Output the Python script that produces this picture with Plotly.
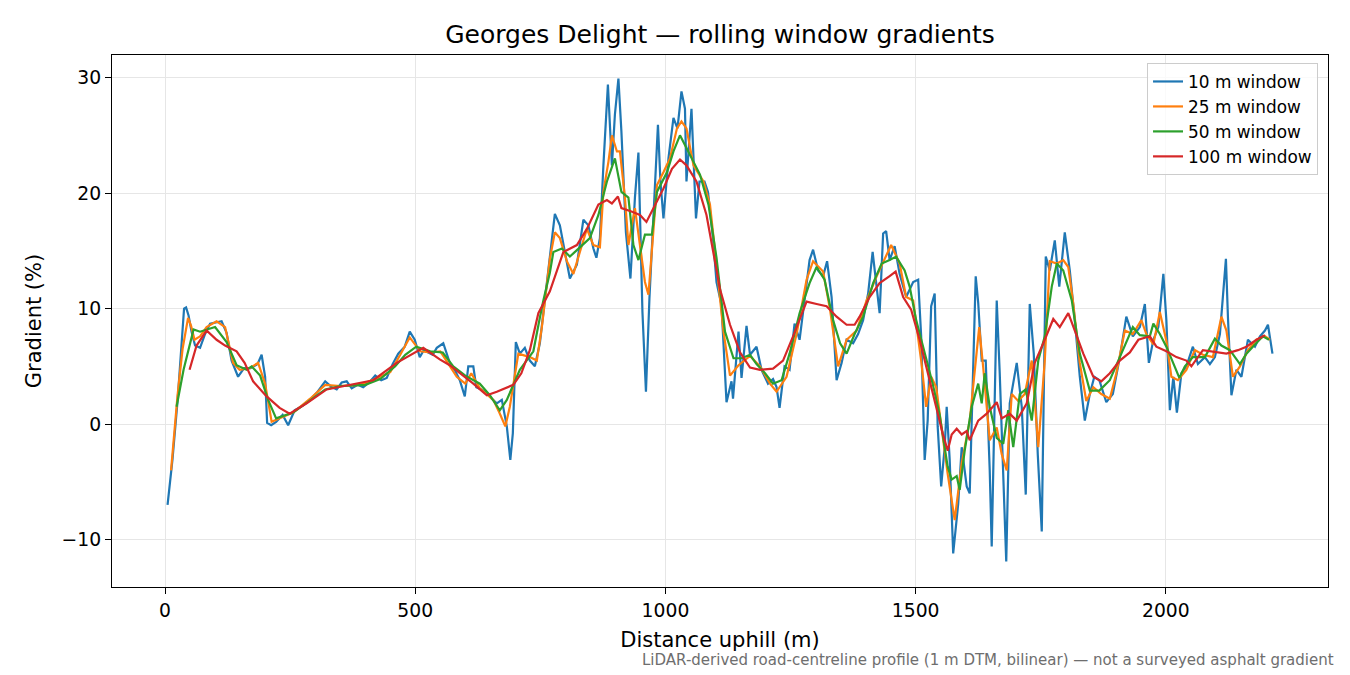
import plotly.graph_objects as go

# distance uphill (m) and gradient (%) per rolling window
DIST_10 = [5, 15, 25, 32, 38, 42, 47, 53, 60, 70, 80, 90, 100, 113, 123, 133, 146, 158, 171, 185,
           193, 200, 204, 212, 222, 235, 246, 259, 275, 290, 305, 320, 333, 343, 353, 363,
           373, 385, 396, 408, 420, 432, 443, 455, 466, 479, 489, 499, 509, 517, 526, 535, 543,
           556, 569, 580, 589, 599, 606, 616, 622, 632, 643, 653, 663, 673, 683, 690, 695, 701,
           709, 719, 729, 739, 749, 759, 769,
           779, 789, 799, 809, 823, 836, 846, 856, 862, 869, 876, 885, 893, 899, 906, 912, 921,
           930, 939, 946, 954, 961, 968, 975, 985, 990, 996, 1006, 1016, 1024, 1032, 1039, 1042,
           1052, 1061, 1068, 1078, 1085, 1095, 1102, 1112, 1122, 1132, 1135, 1146, 1152, 1162, 1169,
           1182, 1192, 1205, 1215, 1222, 1228, 1238, 1248, 1258, 1268, 1278, 1288, 1295, 1305,
           1315, 1323, 1332, 1342, 1352, 1362, 1375, 1385, 1395, 1405, 1414, 1422, 1428, 1435,
           1441, 1448, 1458, 1468, 1481, 1495, 1505, 1511, 1518, 1524, 1531, 1538, 1544,
           1551, 1558, 1562, 1568, 1575, 1585, 1592, 1602, 1608, 1615, 1620, 1625, 1632, 1640,
           1648, 1652, 1662, 1668, 1675, 1681, 1688, 1702, 1712, 1720, 1728, 1736, 1744, 1752,
           1760, 1768, 1778, 1787, 1798, 1808, 1818, 1828, 1838, 1848, 1857, 1867, 1881, 1894,
           1908, 1921, 1934, 1948, 1958, 1966,
           1975, 1985, 1995, 2001, 2008, 2015, 2022, 2031, 2041, 2054, 2064, 2078, 2088, 2098,
           2108, 2114, 2120, 2124, 2131, 2141, 2151, 2164, 2178, 2188, 2198, 2204, 2213]
GRAD_10 = [-7.0, -3.0, 2.0, 6.5, 10.0, 10.1, 9.4, 8.0, 6.8, 6.6, 7.8, 8.7, 8.8, 8.9, 7.9, 5.5, 4.1, 4.85, 4.85, 5.2,
           6.0, 4.1, 0.1, -0.1, 0.2, 0.8, -0.1, 1.2, 1.6, 2.1, 2.8, 3.7, 3.2, 3.0, 3.6, 3.7,
           3.1, 3.4, 3.2, 3.6, 4.2, 3.8, 4.0, 5.2, 6.1, 6.7, 8.0, 7.3, 5.8, 6.4, 6.2, 6.0, 6.6,
           7.0, 5.3, 4.6, 3.8, 2.4, 5.0, 5.0, 3.2, 3.0, 2.7, 2.2, 1.8, 2.1, -0.2, -3.1, -0.8, 7.1,
           6.1, 6.6, 5.5, 5.0, 7.0, 10.7, 14.5,
           18.2, 17.2, 14.9, 12.6, 13.8, 17.7, 17.2, 15.2, 14.4, 16.1, 22.4, 29.4, 22.4, 26.8, 29.9, 25.3, 16.6,
           12.6, 19.6, 23.5, 9.7, 2.8, 10.9, 17.5, 25.9, 21.0, 17.8, 23.0, 26.5, 25.6, 28.8, 27.3, 21.0,
           27.3, 17.8, 21.0, 21.0, 20.1, 16.1, 12.3, 10.3, 1.9, 3.7, 2.2, 8.0, 4.0, 8.5, 6.0,
           6.7, 4.7, 3.5, 3.9, 3.2, 1.4, 5.0, 4.7, 8.7, 7.3, 10.7, 14.2, 15.1, 13.3,
           12.8, 14.1, 11.0, 3.8, 5.3, 7.3, 7.0, 7.8, 9.0, 11.3, 14.9, 11.9, 9.6, 16.5,
           16.7, 14.2, 15.4, 13.0, 11.0, 12.3, 12.5, 7.6, -3.1, 0.3, 10.2, 11.3, -0.2,
           -5.4, -2.0, 1.5, -3.1, -11.2, -6.9, -2.0, -5.4, -6.0, 4.6, 12.8, 10.5, 5.5, 5.5,
           -4.0, -10.6, 10.7, 4.4, -5.4, -11.9, 1.8, 5.3, 1.5, -6.1, 10.4, 6.1, -2.6, -9.3,
           14.5, 13.3, 15.9, 11.9, 16.6, 13.3, 9.0, 4.1, 0.3, 2.6, 4.1, 3.8, 1.9, 2.6,
           5.8, 9.3, 7.6, 8.4, 10.4, 5.3,
           7.3, 8.4, 13.0, 9.0, 1.2, 4.1, 1.0, 4.4, 5.0, 6.7, 5.2, 5.8, 5.2, 5.8,
           7.8, 11.3, 14.3, 9.3, 2.5, 4.7, 4.1, 7.3, 6.7, 7.6, 8.1, 8.6, 6.1]

DIST_25 = [12, 25, 35, 46, 52, 59, 70, 83, 103, 120, 136, 149, 169, 186, 200, 213, 229, 256, 290, 320,
           350, 390, 420, 450, 470, 489, 510, 530, 550, 583, 600, 612, 629, 656, 668, 680, 689, 706,
           729, 743, 753, 769, 779, 789, 803, 816, 829, 843, 856, 869, 876, 886, 893, 903, 909, 919,
           926, 939, 949, 959, 966, 976, 983, 996, 1009, 1023, 1032, 1042, 1056, 1076, 1089, 1102,
           1116, 1129, 1146, 1169, 1189, 1209, 1222, 1242, 1262, 1282, 1295, 1315, 1329, 1345, 1362,
           1382, 1402, 1422, 1441, 1451, 1468, 1481, 1495, 1511, 1521, 1531, 1541, 1554, 1564, 1578,
           1592, 1608, 1618, 1627, 1635, 1648, 1662, 1672, 1682, 1692, 1705, 1718, 1732, 1745, 1758,
           1768, 1782, 1795, 1805, 1815, 1828, 1841, 1855, 1871, 1888, 1901, 1918, 1934, 1951, 1961,
           1975, 1988, 2001, 2011, 2024, 2041, 2058, 2074, 2094, 2111, 2121, 2134, 2148, 2164, 2181,
           2198, 2208]
GRAD_25 = [-4.0, 2.5, 6.5, 9.2, 8.5, 7.3, 7.6, 8.4, 8.9, 8.4, 5.3, 4.7, 4.85, 5.3, 3.5, 0.2, 0.5, 1.0, 2.2, 3.4,
           3.3, 3.4, 3.9, 4.5, 6.0, 7.5, 6.3, 6.2, 6.3, 4.1, 3.5, 4.4, 3.1, 2.1, 1.0, -0.2, 1.5, 6.1,
           5.8, 5.5, 8.4, 14.3, 16.6, 16.1, 14.1, 13.0, 14.9, 16.9, 15.5, 15.3, 20.1, 22.7, 25.0, 23.6, 23.6, 19.6,
           15.5, 18.7, 15.5, 12.3, 11.2, 16.6, 20.7, 21.8, 23.0, 25.6, 26.2, 25.6, 22.4, 21.0, 19.0, 13.8,
           8.0, 4.2, 5.1, 5.9, 5.0, 3.5, 2.8, 4.1, 7.8, 12.5, 14.1, 13.2, 9.9, 5.0, 7.3,
           8.1, 10.7, 12.8, 14.5, 15.5, 13.9, 11.0, 10.7, 5.5, 1.5, 4.1, 3.2, -1.2, -4.3, -8.3,
           -3.4, 0.3, 4.4, 8.4, 4.9, -1.4, -0.3, -2.6, -4.0, 2.6, 2.0, 2.6, 5.5, -2.0, 5.5,
           14.1, 13.9, 14.2, 13.6, 10.4, 5.3, 2.0, 3.2, 2.6, 2.2, 4.4, 8.1, 7.8, 9.0, 7.8,
           6.9, 9.7, 7.2, 4.1, 3.8, 4.7, 6.4, 6.0, 5.8, 9.3, 8.1, 4.1, 5.0, 6.4, 7.3,
           7.6, 7.3]

DIST_50 = [23, 37, 57, 70, 100, 123, 143, 163, 173, 190, 206, 222, 256, 290, 320, 350, 400, 430, 460, 480,
           502, 530, 555, 576, 600, 629, 649, 669, 683, 709, 736, 749, 756, 769, 776, 793, 809, 829,
           849, 866, 883, 899, 912, 926, 936, 946, 959, 973, 983, 1003, 1016, 1029, 1049, 1069, 1086,
           1102, 1119, 1136, 1152, 1169, 1182, 1199, 1215, 1232, 1248, 1268, 1288, 1302, 1318, 1335,
           1349, 1362, 1378, 1395, 1415, 1432, 1448, 1461, 1478, 1488, 1501, 1518, 1534, 1548, 1564,
           1572, 1582, 1588, 1598, 1612, 1625, 1632, 1638, 1648, 1662, 1675, 1685, 1695, 1708, 1720,
           1732, 1745, 1758, 1772, 1782, 1795, 1812, 1828, 1848, 1867, 1888, 1908, 1934, 1948, 1968,
           1975, 1988, 2001, 2015, 2027, 2038, 2054, 2078, 2098, 2111, 2128, 2148, 2161, 2178, 2194,
           2206]
GRAD_50 = [1.5, 4.7, 8.2, 8.0, 8.4, 7.1, 5.1, 4.7, 5.0, 4.2, 2.1, 0.5, 1.0, 2.1, 3.0, 3.3, 3.4, 3.9, 5.0, 6.0,
           6.7, 6.3, 6.2, 5.0, 4.2, 3.5, 2.5, 1.2, 2.1, 4.7, 6.3, 9.2, 10.7, 13.1, 14.9, 15.2, 14.5, 15.3,
           16.1, 18.1, 21.0, 23.0, 20.1, 19.6, 15.5, 14.2, 16.4, 16.4, 20.1, 21.8, 23.6, 25.0, 23.3, 21.6, 19.0,
           14.4, 8.0, 5.7, 5.7, 6.0, 5.2, 4.4, 3.5, 3.8, 6.1, 9.6, 12.2, 13.6, 12.5, 9.0,
           7.0, 6.1, 7.8, 9.3, 12.2, 13.9, 14.2, 14.5, 13.3, 11.9, 9.0, 6.1, 3.5, 0.8, -3.7,
           -4.8, -4.5, -5.7, -2.3, 1.5, 3.5, 1.8, 4.4, 1.5, -1.2, -1.7, 1.2, -2.0, 2.6, 3.0,
           0.3, 5.5, 7.6, 11.9, 13.9, 13.3, 10.7, 6.1, 2.9, 2.9, 3.8, 5.8, 8.4, 7.7, 7.6,
           8.7, 7.8, 6.7, 5.2, 4.0, 5.0, 5.8, 5.8, 7.4, 6.8, 6.4, 5.2, 6.1, 6.9, 7.6,
           7.3]

DIST_100 = [49, 63, 83, 103, 120, 143, 159, 176, 203, 229, 249, 283, 323, 369, 416, 463, 516, 549, 569, 616,
            643, 663, 696, 712, 729, 746, 769, 796, 823, 843, 866, 883, 893, 905, 912, 932, 949, 962,
            979, 996, 1013, 1029, 1042, 1062, 1082, 1095, 1109, 1129, 1149, 1169, 1189, 1215, 1235,
            1255, 1282, 1302, 1322, 1342, 1362, 1378, 1388, 1408, 1428, 1448, 1460, 1475, 1491, 1508,
            1524, 1541, 1554, 1564, 1572, 1582, 1592, 1602, 1608, 1625, 1642, 1662, 1672, 1688, 1702,
            1722, 1738, 1755, 1775, 1788, 1805, 1818, 1835, 1855, 1871, 1888, 1908, 1928, 1945, 1968,
            1981, 2001, 2021, 2041, 2051, 2074, 2094, 2121, 2144, 2161, 2181, 2198]
GRAD_100 = [4.7, 6.8, 8.1, 7.3, 6.8, 6.3, 5.3, 3.7, 2.4, 1.4, 0.9, 1.8, 3.0, 3.4, 3.8, 5.3, 6.6, 5.6, 5.1, 3.5,
            2.5, 2.8, 3.4, 4.4, 6.4, 9.6, 11.5, 14.9, 15.5, 16.9, 19.0, 19.4, 19.1, 19.7, 18.7, 18.4, 18.1, 17.5,
            19.0, 20.4, 22.1, 22.9, 22.4, 21.0, 18.1, 14.9, 11.7, 8.6, 6.2, 4.9, 4.7, 4.8, 5.5,
            7.6, 10.6, 10.4, 10.2, 9.3, 8.6, 8.6, 9.3, 11.0, 12.2, 12.8, 13.2, 11.0, 9.9, 7.3,
            4.4, 1.5, -0.8, -2.3, -0.9, -0.4, -0.9, -0.6, -1.4, 0.3, 0.9, 1.9, 0.5, 0.9, 0.3,
            1.8, 5.3, 7.0, 9.1, 8.4, 9.6, 8.1, 6.1, 4.1, 3.7, 4.4, 5.5, 6.2, 7.3, 7.6,
            6.7, 6.3, 5.8, 5.5, 5.0, 6.4, 6.3, 6.1, 6.4, 6.7, 7.3, 7.7]

SERIES = [
    ("10 m window", DIST_10, GRAD_10, "#1f77b4"),
    ("25 m window", DIST_25, GRAD_25, "#ff7f0e"),
    ("50 m window", DIST_50, GRAD_50, "#2ca02c"),
    ("100 m window", DIST_100, GRAD_100, "#d62728"),
]

FONT = "DejaVu Sans"
# page has an 8px body margin, so the figure is sized to fit the window
W, H = 1342, 667

fig = go.Figure()
for name, xs, ys, col in SERIES:
    fig.add_trace(go.Scatter(x=xs, y=ys, mode="lines", name=name,
                             line=dict(color=col, width=2.2)))

axis_common = dict(
    showline=True, linecolor="black", linewidth=1.1, mirror=True,
    ticks="outside", ticklen=6, tickwidth=1.1, tickcolor="black",
    showgrid=True, gridcolor="#e6e6e6", gridwidth=1, zeroline=False,
    tickfont=dict(family=FONT, size=18.75, color="black"),
)

fig.update_layout(
    width=W, height=H,
    paper_bgcolor="white", plot_bgcolor="white",
    margin=dict(l=104, r=22, t=47, b=88),
    title=dict(text="Georges Delight — rolling window gradients",
               font=dict(family=FONT, size=25, color="black"),
               x=712 / W, xanchor="center", y=1 - 26 / H, yanchor="middle"),
    xaxis=dict(range=[-106, 2324], tickvals=[0, 500, 1000, 1500, 2000],
               title=dict(text="Distance uphill (m)", standoff=12,
                          font=dict(family=FONT, size=21, color="black")),
               **axis_common),
    yaxis=dict(range=[-14.1, 31.95], tickvals=[-10, 0, 10, 20, 30],
               title=dict(text="Gradient (%)", standoff=14,
                          font=dict(family=FONT, size=21, color="black")),
               **axis_common),
    legend=dict(x=0.9918, xanchor="right", y=0.985, yanchor="top",
                bgcolor="rgba(255,255,255,0.8)", bordercolor="#cccccc", borderwidth=1,
                font=dict(family=FONT, size=16.9, color="black")),
    showlegend=True,
)

fig.add_annotation(
    text="LiDAR-derived road-centreline profile (1 m DTM, bilinear) — not a surveyed asphalt gradient",
    xref="paper", yref="paper", x=(1328 - 104) / 1216, y=(579 - 652) / 532,
    xanchor="right", yanchor="middle", showarrow=False,
    font=dict(family=FONT, size=15, color="#6e6e6e"),
)

fig.write_html("out.html")
